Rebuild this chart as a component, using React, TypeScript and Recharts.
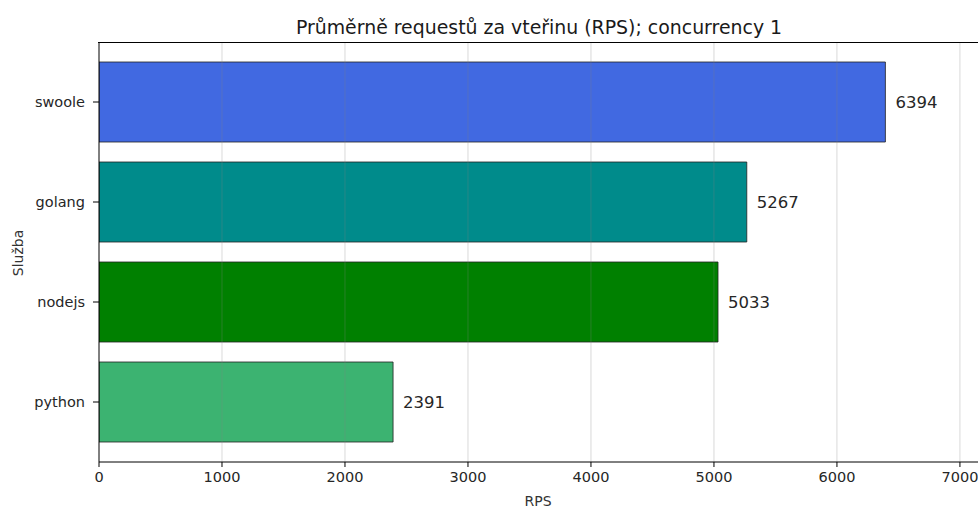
import React from "react";
import {
  Bar,
  BarChart,
  Cell,
  LabelList,
  ReferenceLine,
  XAxis,
  YAxis,
} from "recharts";

// services, top to bottom
const services: string[] = ["swoole", "golang", "nodejs", "python"];
const rps: number[] = [6394, 5267, 5033, 2391];
const barColors: string[] = ["#4169E1", "#008B8B", "#008000", "#3CB371"];
const xTicks: number[] = [0, 1000, 2000, 3000, 4000, 5000, 6000, 7000];

const data = services.map((name, i) => ({ name, rps: rps[i] }));

const font = "'DejaVu Sans', sans-serif";

const App: React.FC = () => {
  return (
    <div
      style={{
        position: "fixed",
        top: 0,
        left: 0,
        width: 978,
        height: 510,
        overflow: "hidden",
        background: "#fff",
        fontFamily: font,
      }}
    >
      <div
        style={{
          position: "absolute",
          top: 16,
          left: 99,
          width: 880,
          textAlign: "center",
          fontSize: 18.9,
          lineHeight: "22px",
          color: "#1a1a1a",
          whiteSpace: "nowrap",
        }}
      >
        Průměrně requestů za vteřinu (RPS); concurrency 1
      </div>
      <div
        style={{
          position: "absolute",
          left: 538 - 40,
          top: 493,
          width: 80,
          textAlign: "center",
          fontSize: 14,
          lineHeight: "16px",
          color: "#333",
        }}
      >
        RPS
      </div>
      <div
        style={{
          position: "absolute",
          left: 18 - 40,
          top: 253 - 8,
          width: 80,
          textAlign: "center",
          fontSize: 14,
          lineHeight: "16px",
          color: "#333",
          transform: "rotate(-90deg)",
        }}
      >
        Služba
      </div>
      <BarChart
        width={980}
        height={510}
        data={data}
        layout="vertical"
        margin={{ top: 42, right: 1, left: 0, bottom: 0 }}
        barCategoryGap="10%"
      >
        <XAxis
          type="number"
          domain={[0, 7155]}
          ticks={xTicks}
          allowDataOverflow
          height={48}
          stroke="#000"
          tickSize={5}
          tick={{ fill: "#262626", fontSize: 14.5, fontFamily: font }}
          tickMargin={5}
        />
        <YAxis
          type="category"
          dataKey="name"
          width={99}
          padding={{ top: 10, bottom: 10 }}
          stroke="#000"
          tickSize={6}
          tick={{ fill: "#262626", fontSize: 14.5, fontFamily: font }}
          tickMargin={8}
        />
        <Bar
          dataKey="rps"
          isAnimationActive={false}
          stroke="#222"
          strokeWidth={0.8}
        >
          {data.map((entry, index) => (
            <Cell key={`cell-${entry.name}`} fill={barColors[index]} />
          ))}
          <LabelList
            dataKey="rps"
            position="right"
            offset={10}
            fill="#262626"
            fontSize={16.5}
            fontFamily={font}
          />
        </Bar>
        {xTicks.slice(1).map((t) => (
          <ReferenceLine
            key={`grid-${t}`}
            x={t}
            stroke="rgba(128,128,128,0.3)"
            strokeWidth={1}
          />
        ))}
      </BarChart>
      <div
        style={{
          position: "absolute",
          left: 98,
          top: 42,
          width: 890,
          height: 420,
          borderTop: "1px solid #000",
          pointerEvents: "none",
        }}
      />
    </div>
  );
};

export default App;
